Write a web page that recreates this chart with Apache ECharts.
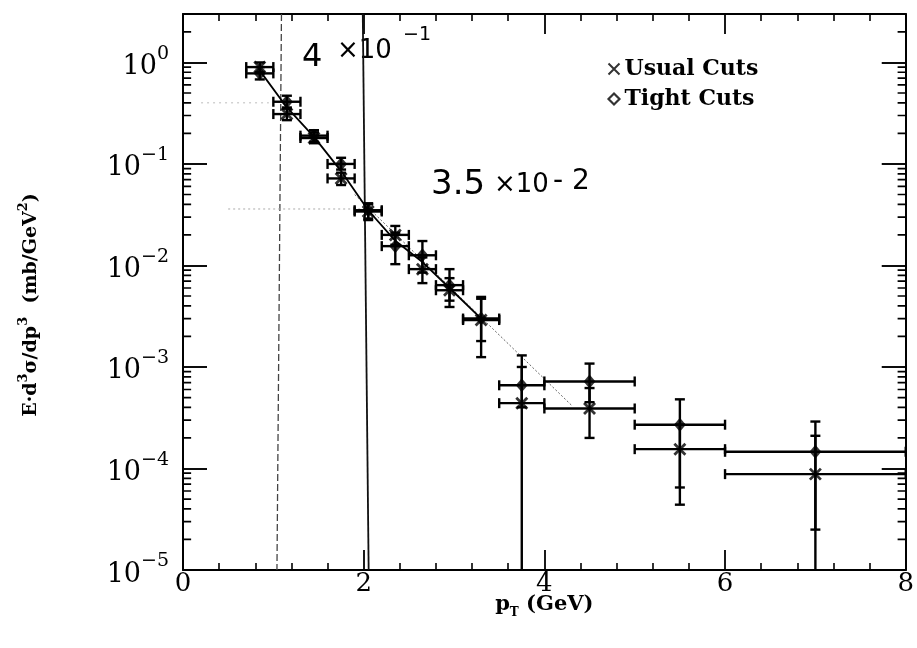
<!DOCTYPE html>
<html><head><meta charset="utf-8">
<script src="https://cdn.jsdelivr.net/npm/echarts@6/dist/echarts.min.js"></script>
<style>html,body{margin:0;padding:0;background:#fff}#c{width:917px;height:648px}</style>
</head><body><div id="c"></div>
<script>
// pT bins (GeV)
const binLow    = [0.7, 1.0, 1.3, 1.6, 1.9, 2.2, 2.5, 2.8, 3.1, 3.5, 4.0, 5.0, 6.0];
const binHigh   = [1.0, 1.3, 1.6, 1.9, 2.2, 2.5, 2.8, 3.1, 3.5, 4.0, 5.0, 6.0, 8.0];
const binCenter = [0.85, 1.15, 1.45, 1.75, 2.05, 2.35, 2.65, 2.95, 3.3, 3.75, 4.5, 5.5, 7.0];

// E d3sigma/dp3 (mb/GeV^2), usual cuts
const usualVal = [0.90, 0.31, 0.18, 0.072, 0.034, 0.020, 0.0092, 0.0057, 0.0029, 0.00044, 0.00039, 0.000155, 0.000088];
const usualLo  = [0.80, 0.27, 0.16, 0.062, 0.028, 0.016, 0.0067, 0.0039, 0.00125, 1e-7, 0.0002, 0.000044, 1e-7];
const usualHi  = [1.00, 0.35, 0.205, 0.082, 0.040, 0.0245, 0.012, 0.0075, 0.0047, 0.0010, 0.00062, 0.00027, 0.00021];

// E d3sigma/dp3 (mb/GeV^2), tight cuts
const tightVal = [0.78, 0.41, 0.19, 0.10, 0.035, 0.0155, 0.0126, 0.0064, 0.0030, 0.00066, 0.00072, 0.00027, 0.000146];
const tightLo  = [0.68, 0.36, 0.165, 0.088, 0.029, 0.0103, 0.0085, 0.0045, 0.0018, 0.0004, 0.00045, 0.000065, 0.000025];
const tightHi  = [0.90, 0.47, 0.215, 0.115, 0.041, 0.021, 0.0174, 0.0092, 0.0049, 0.0013, 0.00108, 0.00048, 0.00029];

// curve through the low-pT points
const curveX = [0.85, 1.15, 1.45, 1.75, 2.05, 2.35, 2.65, 2.95, 3.3];
const curveY = [0.83, 0.36, 0.185, 0.085, 0.035, 0.0175, 0.0108, 0.006, 0.003];

// dotted straight line
const guideX = [1.9, 4.3];
const guideY = [0.05, 0.00042];

// pen marks: two vertical strokes and two dotted level lines
const pen1X = [1.09, 1.04],  pen1Y = [3, 1e-5];
const pen2X = [1.99, 2.055], pen2Y = [3, 1e-5];
const level1X = [0.2, 0.95], level1Y = [0.4, 0.4];
const level2X = [0.5, 2.0],  level2Y = [0.036, 0.036];

// axes
const xTickLabels = ['0', '2', '4', '6', '8'];
const yExponents = [-5, -4, -3, -2, -1, 0];
const minorMantissas = [2, 3, 4, 5, 6, 7, 8, 9];

const SERIF = 'DejaVu Serif';
const X_MIN = 0, X_MAX = 8;
const zip = (a, b) => a.map((v, i) => [v, b[i]]);

function errRows(val, lo, hi) {
  return binCenter.map((x, i) => [x, val[i], binLow[i], binHigh[i], lo[i], hi[i]]);
}

function renderErr(params, api) {
  const xc = api.value(0), y = api.value(1);
  const xl = api.value(2), xh = api.value(3), yl = api.value(4), yh = api.value(5);
  const pl = api.coord([xl, y]), ph = api.coord([xh, y]);
  const pt = api.coord([xc, yh]), pb = api.coord([xc, yl]);
  const st = { stroke: '#000', lineWidth: 2.4 };
  const cap = 5;
  const L = (x1, y1, x2, y2) => ({ type: 'line', shape: { x1, y1, x2, y2 }, style: st });
  return { type: 'group', children: [
    L(pl[0], pl[1], ph[0], ph[1]),
    L(pl[0], pl[1] - cap, pl[0], pl[1] + cap),
    L(ph[0], ph[1] - cap, ph[0], ph[1] + cap),
    L(pt[0], pt[1], pb[0], pb[1]),
    L(pt[0] - cap, pt[1], pt[0] + cap, pt[1]),
    L(pb[0] - cap, pb[1], pb[0] + cap, pb[1])
  ]};
}

// minor ticks of the log axis at 2..9 x 10^k, as short broken segments along each frame side
const MINOR_LEN = 0.09;   // tick length in pT units (about 8 px)
function minorSegments(fromX, toX) {
  const out = [];
  yExponents.forEach(e => minorMantissas.forEach(m => {
    const v = m * Math.pow(10, e);
    if (v <= 3) { out.push([fromX, v]); out.push([toX, v]); out.push(['-', '-']); }
  }));
  return out;
}

const supMinus = e => (e < 0 ? '\u2212' + (-e) : String(e));
function yLabel(v) {
  const lg = Math.log10(v), e = Math.round(lg);
  if (Math.abs(lg - e) > 1e-6 || yExponents.indexOf(e) < 0) return '';
  return '{b|10}{e|' + supMinus(e) + '}';
}

const axisLine = { show: true, onZero: false, lineStyle: { color: '#000', width: 2 } };
const xCommon = {
  type: 'value', min: X_MIN, max: X_MAX, interval: 2,
  axisLine, splitLine: { show: false },
  axisTick: { inside: true, length: 20, lineStyle: { color: '#000', width: 1.8 } },
  minorTick: { show: true, splitNumber: 5, length: 7, lineStyle: { color: '#000', width: 1.6 } }
};
const yCommon = {
  type: 'log', logBase: 10, min: 1e-5, max: 3,
  axisLine, splitLine: { show: false }, minorSplitLine: { show: false },
  axisTick: { inside: true, length: 24, lineStyle: { color: '#000', width: 1.9 } }
};

const chart = echarts.init(document.getElementById('c'), null, { renderer: 'canvas' });
chart.setOption({
  animation: false,
  backgroundColor: '#fff',
  grid: { left: 183, right: 10, top: 14, bottom: 78, containLabel: false },
  xAxis: [
    Object.assign({}, xCommon, {
      position: 'bottom',
      axisLabel: {
        margin: 1, color: '#000', fontFamily: SERIF, fontSize: 26,
        formatter: v => xTickLabels[Math.round(v / 2)] || ''
      },
      name: '{p|p}{s|T}{n| (GeV)}', nameLocation: 'middle', nameGap: 24,
      nameMoveOverlap: false,
      nameTextStyle: {
        color: '#000',
        rich: {
          p: { fontFamily: SERIF, fontWeight: 'bold', fontSize: 21, lineHeight: 25, verticalAlign: 'top' },
          s: { fontFamily: SERIF, fontWeight: 'bold', fontSize: 12, lineHeight: 14, verticalAlign: 'bottom' },
          n: { fontFamily: SERIF, fontWeight: 'bold', fontSize: 21, lineHeight: 25, verticalAlign: 'top' }
        }
      }
    }),
    Object.assign({}, xCommon, { position: 'top', axisLabel: { show: false } })
  ],
  yAxis: [
    Object.assign({}, yCommon, {
      position: 'left',
      axisLabel: {
        margin: 14, color: '#000', formatter: yLabel,
        rich: {
          b: { fontFamily: SERIF, fontSize: 27, lineHeight: 36, verticalAlign: 'bottom' },
          e: { fontFamily: SERIF, fontSize: 19, lineHeight: 16, verticalAlign: 'top' }
        }
      },
      name: 'E\u00b7d{s|3}\u03c3/dp{s|3}  (mb/GeV{s|2})',
      nameLocation: 'middle', nameRotate: 90, nameGap: 138,
      nameMoveOverlap: false,
      nameTextStyle: {
        color: '#000', padding: [0, 26, 0, 0],
        rich: {
          s: { fontFamily: SERIF, fontWeight: 'bold', fontSize: 13, lineHeight: 12, verticalAlign: 'top' }
        },
        fontFamily: SERIF, fontWeight: 'bold', fontSize: 19, lineHeight: 28
      }
    }),
    Object.assign({}, yCommon, { position: 'right', axisLabel: { show: false } })
  ],
  legend: {
    orient: 'vertical', left: 601, top: 53, itemWidth: 11, itemHeight: 11, itemGap: 8,
    textStyle: { fontFamily: SERIF, fontSize: 22, fontWeight: 'bold', color: '#000' },
    data: [
      { name: 'Usual Cuts', icon: 'path://M0,0L10,10M10,0L0,10',
        itemStyle: { color: 'none', borderColor: '#000', borderWidth: 2 } },
      { name: 'Tight Cuts', icon: 'path://M5,0L10,5L5,10L0,5Z',
        itemStyle: { color: '#fff', borderColor: '#000', borderWidth: 2.2 } }
    ]
  },
  graphic: [
    { type: 'text', left: 302, top: 42, style: { text: '4', font: '32px "DejaVu Sans"', fill: '#000' } },
    { type: 'text', left: 337, top: 38, style: { text: '\u00d710', font: '26px "DejaVu Sans"', fill: '#000' } },
    { type: 'text', left: 403, top: 26, style: { text: '\u22121', font: '19px "DejaVu Sans"', fill: '#000' } },
    { type: 'text', left: 431, top: 168, style: { text: '3.5', font: '34px "DejaVu Sans"', fill: '#000' } },
    { type: 'text', left: 494, top: 172, style: { text: '\u00d710', font: '26px "DejaVu Sans"', fill: '#000' } },
    { type: 'text', left: 553, top: 168, style: { text: '- 2', font: '28px "DejaVu Sans"', fill: '#000' } }
  ],
  series: [
    { type: 'line', name: 'minorLeft', silent: true, showSymbol: false, connectNulls: false, z: 6,
      data: minorSegments(X_MIN, X_MIN + MINOR_LEN), lineStyle: { color: '#000', width: 1.7 } },
    { type: 'line', name: 'minorRight', silent: true, showSymbol: false, connectNulls: false, z: 6,
      data: minorSegments(X_MAX - MINOR_LEN, X_MAX), lineStyle: { color: '#000', width: 1.7 } },
    { type: 'line', name: 'pen1', silent: true, showSymbol: false, z: 1,
      data: zip(pen1X, pen1Y), lineStyle: { color: '#444', width: 1.3, type: [7, 3] } },
    { type: 'line', name: 'pen2', silent: true, showSymbol: false, z: 1,
      data: zip(pen2X, pen2Y), lineStyle: { color: '#111', width: 1.8 } },
    { type: 'line', name: 'level1', silent: true, showSymbol: false, z: 1,
      data: zip(level1X, level1Y), lineStyle: { color: '#bbb', width: 1, type: [2, 4] } },
    { type: 'line', name: 'level2', silent: true, showSymbol: false, z: 1,
      data: zip(level2X, level2Y), lineStyle: { color: '#aaa', width: 1, type: [2, 3] } },
    { type: 'line', name: 'guide', silent: true, showSymbol: false, z: 2,
      data: zip(guideX, guideY), lineStyle: { color: '#666', width: 1, type: [2, 2] } },
    { type: 'line', name: 'curve', silent: true, showSymbol: false, z: 2,
      data: zip(curveX, curveY), lineStyle: { color: '#000', width: 1.8 } },
    { type: 'custom', name: 'usualErr', silent: true, clip: true, z: 3,
      renderItem: renderErr, data: errRows(usualVal, usualLo, usualHi), encode: { x: 0, y: 1 } },
    { type: 'custom', name: 'tightErr', silent: true, clip: true, z: 3,
      renderItem: renderErr, data: errRows(tightVal, tightLo, tightHi), encode: { x: 0, y: 1 } },
    { type: 'scatter', name: 'Usual Cuts', z: 4,
      data: zip(binCenter, usualVal),
      symbol: 'path://M0,0L10,10M10,0L0,10', symbolSize: 11,
      itemStyle: { color: '#000', borderColor: '#000', borderWidth: 2.8 } },
    { type: 'scatter', name: 'Tight Cuts', z: 4,
      data: zip(binCenter, tightVal),
      symbol: 'diamond', symbolSize: [12, 14],
      itemStyle: { color: '#000' } }
  ]
});
</script>
</body></html>
